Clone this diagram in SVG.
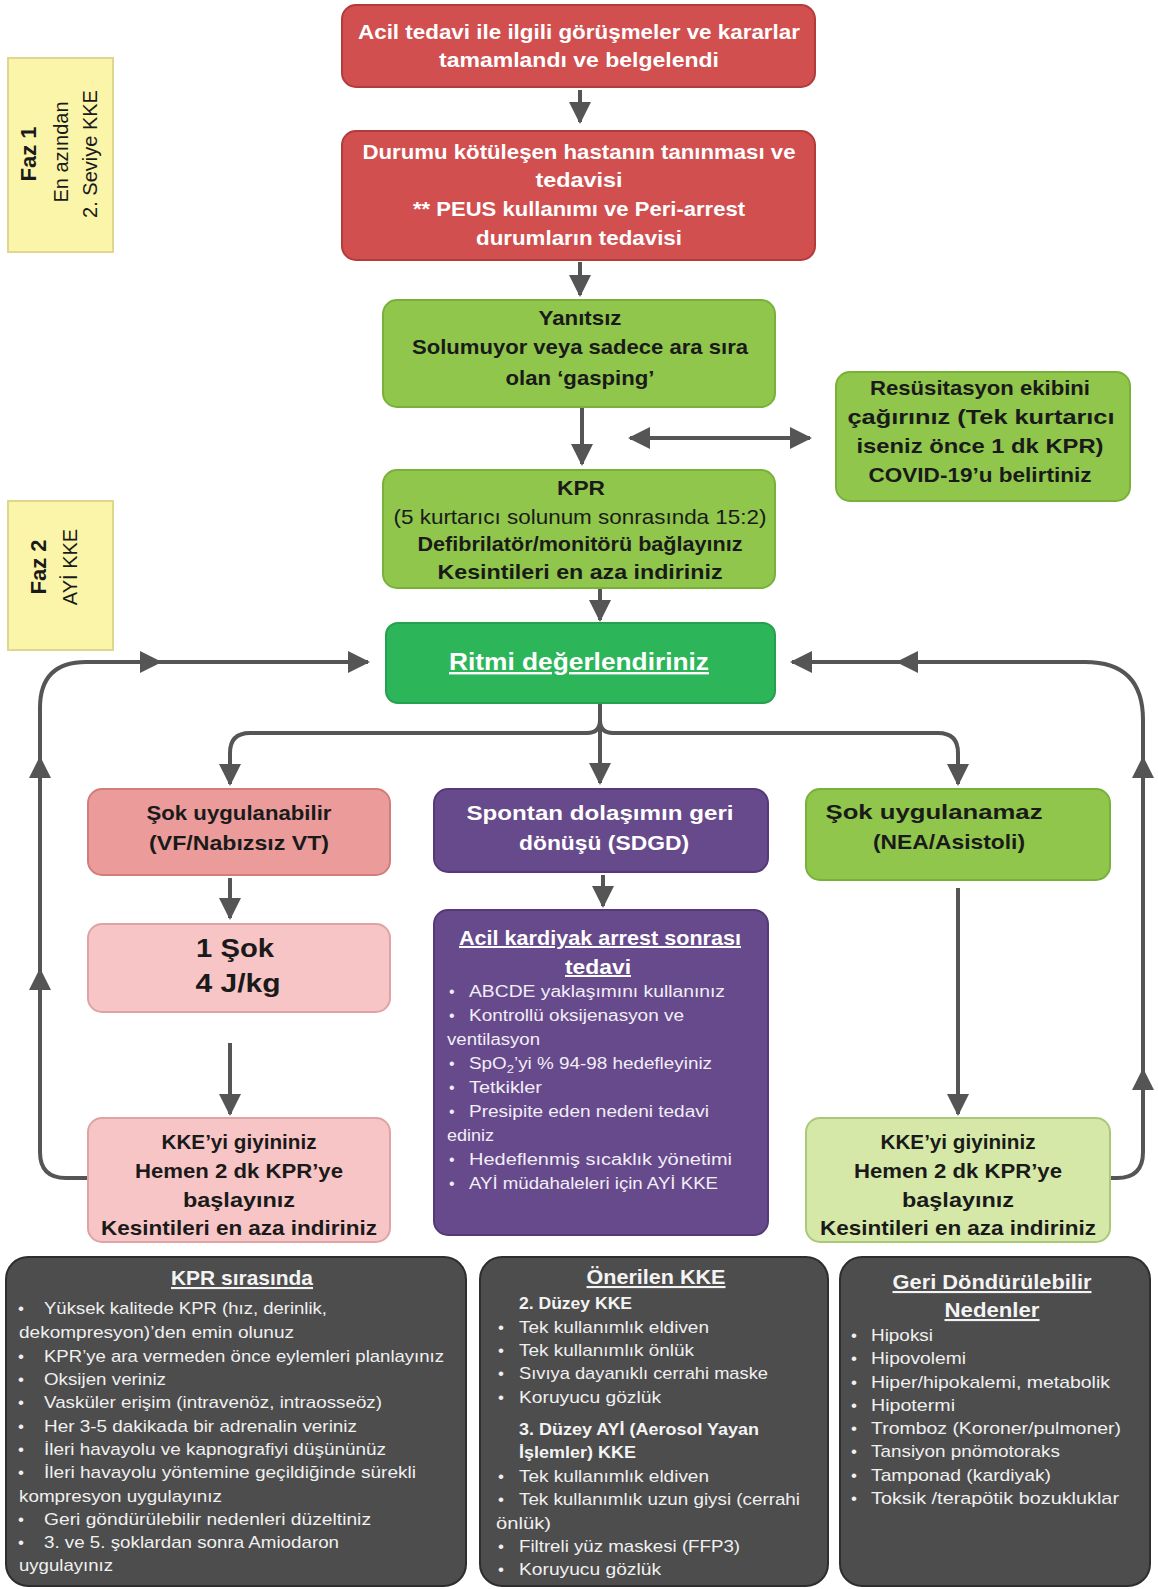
<svg xmlns="http://www.w3.org/2000/svg" width="1158" height="1589" viewBox="0 0 1158 1589">
<style>
text{font-family:"Liberation Sans",Arial,sans-serif}
.b{font-weight:bold;text-anchor:middle;font-size:21px}
.w{fill:#ffffff}
.k{fill:#1a1a1a}
.r{font-weight:normal}
.u{text-decoration:underline}
.bl{font-size:16px;fill:#f2eef7}
.gl{font-size:17px;fill:#f0f0f0}
.gh{font-size:21px;font-weight:bold;fill:#f4f4f4;text-anchor:middle;text-decoration:underline}
.gs{font-size:17px;font-weight:bold;fill:#f4f4f4}
.ln{fill:none;stroke:#555555;stroke-width:4}
.tri{fill:#555555}
.faz{fill:#fbf5a9;stroke:#e0d78e;stroke-width:2}
</style>
<defs>
<marker id="ah" markerUnits="userSpaceOnUse" markerWidth="22" markerHeight="22" refX="20" refY="11" orient="auto">
<path d="M0,0 L22,11 L0,22 z" fill="#555555"/>
</marker>
<marker id="ahs" markerUnits="userSpaceOnUse" markerWidth="22" markerHeight="22" refX="2" refY="11" orient="auto">
<path d="M22,0 L0,11 L22,22 z" fill="#555555"/>
</marker>
</defs>

<g id="faz1">
<rect class="faz" x="8" y="58" width="105" height="194"/>
<text transform="translate(36,154) rotate(-90)" style="font-size:22px;font-weight:bold;text-anchor:middle" fill="#1a1a1a">Faz 1</text>
<text transform="translate(68,152) rotate(-90)" style="font-size:20px;text-anchor:middle" fill="#1a1a1a">En azından</text>
<text transform="translate(97,154) rotate(-90)" style="font-size:20px;text-anchor:middle" fill="#1a1a1a">2. Seviye KKE</text>
</g>
<g id="faz2">
<rect class="faz" x="8" y="501" width="105" height="149"/>
<text transform="translate(46,567) rotate(-90)" style="font-size:22px;font-weight:bold;text-anchor:middle" fill="#1a1a1a">Faz 2</text>
<text transform="translate(77,567) rotate(-90)" style="font-size:20px;text-anchor:middle" fill="#1a1a1a">AYİ KKE</text>
</g>

<g id="connectors">
<line class="ln" x1="580" y1="90" x2="580" y2="122" marker-end="url(#ah)"/>
<line class="ln" x1="580" y1="262" x2="580" y2="295" marker-end="url(#ah)"/>
<line class="ln" x1="582" y1="407" x2="582" y2="464" marker-end="url(#ah)"/>
<line class="ln" x1="630" y1="438" x2="810" y2="438" marker-start="url(#ahs)" marker-end="url(#ah)"/>
<line class="ln" x1="600" y1="588" x2="600" y2="620" marker-end="url(#ah)"/>
<path class="ln" d="M88,1178 L66,1178 Q40,1178 40,1152 L40,708 Q40,662 86,662 L368,662" marker-end="url(#ah)"/>
<polygon class="tri" points="40,756 29,778 51,778"/>
<polygon class="tri" points="40,968 29,990 51,990"/>
<polygon class="tri" points="162,662 140,651 140,673"/>
<path class="ln" d="M1110,1178 L1117,1178 Q1143,1178 1143,1152 L1143,720 Q1143,662 1085,662 L792,662" marker-end="url(#ah)"/>
<polygon class="tri" points="1143,756 1132,778 1154,778"/>
<polygon class="tri" points="1143,1068 1132,1090 1154,1090"/>
<polygon class="tri" points="896,662 918,651 918,673"/>
<path class="ln" d="M600,703 L600,720 Q600,733 587,733 L250,733 Q230,733 230,753 L230,784" marker-end="url(#ah)"/>
<path class="ln" d="M600,720 Q600,733 613,733 L938,733 Q958,733 958,753 L958,784" marker-end="url(#ah)"/>
<line class="ln" x1="600" y1="720" x2="600" y2="783" marker-end="url(#ah)"/>
<line class="ln" x1="230" y1="878" x2="230" y2="918" marker-end="url(#ah)"/>
<line class="ln" x1="603" y1="875" x2="603" y2="906" marker-end="url(#ah)"/>
<line class="ln" x1="230" y1="1043" x2="230" y2="1114" marker-end="url(#ah)"/>
<line class="ln" x1="958" y1="888" x2="958" y2="1114" marker-end="url(#ah)"/>
</g>

<g id="n1">
<rect x="342" y="5" width="473" height="82" rx="14" fill="#d14f4f" stroke="#b23b3b" stroke-width="2"/>
<text class="b w" x="579" y="39" textLength="442" lengthAdjust="spacingAndGlyphs">Acil tedavi ile ilgili görüşmeler ve kararlar</text>
<text class="b w" x="579" y="67" textLength="280" lengthAdjust="spacingAndGlyphs">tamamlandı ve belgelendi</text>
</g>
<g id="n2">
<rect x="342" y="131" width="473" height="129" rx="14" fill="#d14f4f" stroke="#b23b3b" stroke-width="2"/>
<text class="b w" x="579" y="159" textLength="433" lengthAdjust="spacingAndGlyphs">Durumu kötüleşen hastanın tanınması ve</text>
<text class="b w" x="579" y="187" textLength="87" lengthAdjust="spacingAndGlyphs">tedavisi</text>
<text class="b w" x="579" y="216" textLength="332" lengthAdjust="spacingAndGlyphs">** PEUS kullanımı ve Peri-arrest</text>
<text class="b w" x="579" y="245" textLength="206" lengthAdjust="spacingAndGlyphs">durumların tedavisi</text>
</g>
<g id="n3">
<rect x="383" y="300" width="392" height="107" rx="14" fill="#8fc64b" stroke="#79b03a" stroke-width="2"/>
<text class="b k" x="580" y="325" textLength="83" lengthAdjust="spacingAndGlyphs">Yanıtsız</text>
<text class="b k" x="580" y="354" textLength="336" lengthAdjust="spacingAndGlyphs">Solumuyor veya sadece ara sıra</text>
<text class="b k" x="580" y="385" textLength="149" lengthAdjust="spacingAndGlyphs">olan ‘gasping’</text>
</g>
<g id="n4">
<rect x="836" y="372" width="294" height="129" rx="14" fill="#8fc64b" stroke="#79b03a" stroke-width="2"/>
<text class="b k" x="980" y="395" textLength="220" lengthAdjust="spacingAndGlyphs">Resüsitasyon ekibini</text>
<text class="b k" x="981" y="424" textLength="267" lengthAdjust="spacingAndGlyphs">çağırınız  (Tek kurtarıcı</text>
<text class="b k" x="980" y="453" textLength="247" lengthAdjust="spacingAndGlyphs">iseniz önce 1 dk KPR)</text>
<text class="b k" x="980" y="482" textLength="223" lengthAdjust="spacingAndGlyphs">COVID-19’u belirtiniz</text>
</g>
<g id="n5">
<rect x="383" y="470" width="392" height="118" rx="14" fill="#8fc64b" stroke="#79b03a" stroke-width="2"/>
<text class="b k" x="581" y="495" textLength="48" lengthAdjust="spacingAndGlyphs">KPR</text>
<text class="b k r" x="580" y="524" textLength="373" lengthAdjust="spacingAndGlyphs">(5 kurtarıcı solunum sonrasında 15:2)</text>
<text class="b k" x="580" y="551" textLength="325" lengthAdjust="spacingAndGlyphs">Defibrilatör/monitörü bağlayınız</text>
<text class="b k" x="580" y="579" textLength="285" lengthAdjust="spacingAndGlyphs">Kesintileri en aza indiriniz</text>
</g>
<g id="n6">
<rect x="386" y="623" width="389" height="80" rx="12" fill="#2db55a" stroke="#25a04e" stroke-width="2"/>
<text class="b w u" x="579" y="670" style="font-size:24px" textLength="260" lengthAdjust="spacingAndGlyphs">Ritmi değerlendiriniz</text>
</g>
<g id="n7">
<rect x="88" y="789" width="302" height="86" rx="14" fill="#ec9b9b" stroke="#d27c7c" stroke-width="2"/>
<text class="b k" x="239" y="820" textLength="185" lengthAdjust="spacingAndGlyphs">Şok uygulanabilir</text>
<text class="b k" x="239" y="850" textLength="180" lengthAdjust="spacingAndGlyphs">(VF/Nabızsız VT)</text>
</g>
<g id="n8">
<rect x="434" y="789" width="334" height="83" rx="14" fill="#674a8b" stroke="#553a77" stroke-width="2"/>
<text class="b w" x="600" y="820" textLength="267" lengthAdjust="spacingAndGlyphs">Spontan dolaşımın geri</text>
<text class="b w" x="604" y="850" textLength="170" lengthAdjust="spacingAndGlyphs">dönüşü (SDGD)</text>
</g>
<g id="n9">
<rect x="806" y="789" width="304" height="91" rx="14" fill="#8fc64b" stroke="#79b03a" stroke-width="2"/>
<text class="b k" x="934" y="819" textLength="217" lengthAdjust="spacingAndGlyphs">Şok uygulanamaz</text>
<text class="b k" x="949" y="849" textLength="152" lengthAdjust="spacingAndGlyphs">(NEA/Asistoli)</text>
</g>
<g id="n10">
<rect x="88" y="924" width="302" height="88" rx="14" fill="#f7c5c5" stroke="#e0a3a3" stroke-width="2"/>
<text class="b k" x="235" y="957" style="font-size:26px" textLength="78" lengthAdjust="spacingAndGlyphs">1 Şok</text>
<text class="b k" x="238" y="992" style="font-size:26px" textLength="85" lengthAdjust="spacingAndGlyphs">4 J/kg</text>
</g>
<g id="n11">
<rect x="434" y="910" width="334" height="325" rx="14" fill="#674a8b" stroke="#553a77" stroke-width="2"/>
<text class="b w u" x="600" y="945" style="font-size:20px" textLength="282" lengthAdjust="spacingAndGlyphs">Acil kardiyak arrest sonrası</text>
<text class="b w u" x="598" y="974" style="font-size:20px" textLength="66" lengthAdjust="spacingAndGlyphs">tedavi</text>
<text class="bl" x="449" y="997">•</text><text class="bl" x="469" y="997" textLength="256" lengthAdjust="spacingAndGlyphs">ABCDE yaklaşımını kullanınız</text>
<text class="bl" x="449" y="1021">•</text><text class="bl" x="469" y="1021" textLength="215" lengthAdjust="spacingAndGlyphs">Kontrollü oksijenasyon ve</text>
<text class="bl" x="447" y="1045" textLength="93" lengthAdjust="spacingAndGlyphs">ventilasyon</text>
<text class="bl" x="449" y="1069">•</text><text class="bl" x="469" y="1069" textLength="243" lengthAdjust="spacingAndGlyphs">SpO<tspan font-size="11" dy="4">2</tspan><tspan dy="-4">’yi % 94-98 hedefleyiniz</tspan></text>
<text class="bl" x="449" y="1093">•</text><text class="bl" x="469" y="1093" textLength="73" lengthAdjust="spacingAndGlyphs">Tetkikler</text>
<text class="bl" x="449" y="1117">•</text><text class="bl" x="469" y="1117" textLength="240" lengthAdjust="spacingAndGlyphs">Presipite eden nedeni tedavi</text>
<text class="bl" x="447" y="1141" textLength="47" lengthAdjust="spacingAndGlyphs">ediniz</text>
<text class="bl" x="449" y="1165">•</text><text class="bl" x="469" y="1165" textLength="263" lengthAdjust="spacingAndGlyphs">Hedeflenmiş sıcaklık yönetimi</text>
<text class="bl" x="449" y="1189">•</text><text class="bl" x="469" y="1189" textLength="249" lengthAdjust="spacingAndGlyphs">AYİ müdahaleleri için AYİ KKE</text>
</g>
<g id="n12">
<rect x="88" y="1118" width="302" height="124" rx="14" fill="#f7c5c5" stroke="#e0a3a3" stroke-width="2"/>
<text class="b k" x="239" y="1149" textLength="155" lengthAdjust="spacingAndGlyphs">KKE’yi giyininiz</text>
<text class="b k" x="239" y="1178" textLength="208" lengthAdjust="spacingAndGlyphs">Hemen 2 dk KPR’ye</text>
<text class="b k" x="239" y="1207" textLength="112" lengthAdjust="spacingAndGlyphs">başlayınız</text>
<text class="b k" x="239" y="1235" textLength="276" lengthAdjust="spacingAndGlyphs">Kesintileri en aza indiriniz</text>
</g>
<g id="n13">
<rect x="806" y="1118" width="304" height="124" rx="14" fill="#d5e8a7" stroke="#a9c978" stroke-width="2"/>
<text class="b k" x="958" y="1149" textLength="155" lengthAdjust="spacingAndGlyphs">KKE’yi giyininiz</text>
<text class="b k" x="958" y="1178" textLength="208" lengthAdjust="spacingAndGlyphs">Hemen 2 dk KPR’ye</text>
<text class="b k" x="958" y="1207" textLength="112" lengthAdjust="spacingAndGlyphs">başlayınız</text>
<text class="b k" x="958" y="1235" textLength="276" lengthAdjust="spacingAndGlyphs">Kesintileri en aza indiriniz</text>
</g>

<g id="n14">
<rect x="6" y="1257" width="460" height="329" rx="22" fill="#4d4d4d" stroke="#2e2e2e" stroke-width="2"/>
<text class="gh" x="242" y="1285" textLength="142" lengthAdjust="spacingAndGlyphs">KPR sırasında</text>
<text class="gl" x="18" y="1314">•</text><text class="gl" x="44" y="1314" textLength="283" lengthAdjust="spacingAndGlyphs">Yüksek kalitede KPR (hız, derinlik,</text>
<text class="gl" x="19" y="1338" textLength="275" lengthAdjust="spacingAndGlyphs">dekompresyon)’den emin olunuz</text>
<text class="gl" x="18" y="1362">•</text><text class="gl" x="44" y="1362" textLength="400" lengthAdjust="spacingAndGlyphs">KPR’ye ara vermeden önce eylemleri planlayınız</text>
<text class="gl" x="18" y="1385">•</text><text class="gl" x="44" y="1385" textLength="122" lengthAdjust="spacingAndGlyphs">Oksijen veriniz</text>
<text class="gl" x="18" y="1408">•</text><text class="gl" x="44" y="1408" textLength="338" lengthAdjust="spacingAndGlyphs">Vasküler erişim (intravenöz, intraosseöz)</text>
<text class="gl" x="18" y="1432">•</text><text class="gl" x="44" y="1432" textLength="313" lengthAdjust="spacingAndGlyphs">Her 3-5 dakikada bir adrenalin veriniz</text>
<text class="gl" x="18" y="1455">•</text><text class="gl" x="44" y="1455" textLength="342" lengthAdjust="spacingAndGlyphs">İleri havayolu ve kapnografiyi düşününüz</text>
<text class="gl" x="18" y="1478">•</text><text class="gl" x="44" y="1478" textLength="372" lengthAdjust="spacingAndGlyphs">İleri havayolu yöntemine geçildiğinde sürekli</text>
<text class="gl" x="19" y="1502" textLength="203" lengthAdjust="spacingAndGlyphs">kompresyon uygulayınız</text>
<text class="gl" x="18" y="1525">•</text><text class="gl" x="44" y="1525" textLength="327" lengthAdjust="spacingAndGlyphs">Geri göndürülebilir nedenleri düzeltiniz</text>
<text class="gl" x="18" y="1548">•</text><text class="gl" x="44" y="1548" textLength="295" lengthAdjust="spacingAndGlyphs">3. ve 5. şoklardan sonra Amiodaron</text>
<text class="gl" x="19" y="1571" textLength="94" lengthAdjust="spacingAndGlyphs">uygulayınız</text>
</g>
<g id="n15">
<rect x="480" y="1257" width="348" height="329" rx="22" fill="#4d4d4d" stroke="#2e2e2e" stroke-width="2"/>
<text class="gh" x="656" y="1284" textLength="139" lengthAdjust="spacingAndGlyphs">Önerilen KKE</text>
<text class="gs" x="519" y="1309" textLength="113" lengthAdjust="spacingAndGlyphs">2. Düzey KKE</text>
<text class="gl" x="498" y="1333">•</text><text class="gl" x="519" y="1333" textLength="190" lengthAdjust="spacingAndGlyphs">Tek kullanımlık eldiven</text>
<text class="gl" x="498" y="1356">•</text><text class="gl" x="519" y="1356" textLength="175" lengthAdjust="spacingAndGlyphs">Tek kullanımlık önlük</text>
<text class="gl" x="498" y="1379">•</text><text class="gl" x="519" y="1379" textLength="249" lengthAdjust="spacingAndGlyphs">Sıvıya dayanıklı cerrahi maske</text>
<text class="gl" x="498" y="1403">•</text><text class="gl" x="519" y="1403" textLength="142" lengthAdjust="spacingAndGlyphs">Koruyucu gözlük</text>
<text class="gs" x="519" y="1435" textLength="240" lengthAdjust="spacingAndGlyphs">3. Düzey AYİ (Aerosol Yayan</text>
<text class="gs" x="519" y="1458" textLength="117" lengthAdjust="spacingAndGlyphs">İşlemler) KKE</text>
<text class="gl" x="498" y="1482">•</text><text class="gl" x="519" y="1482" textLength="190" lengthAdjust="spacingAndGlyphs">Tek kullanımlık eldiven</text>
<text class="gl" x="498" y="1505">•</text><text class="gl" x="519" y="1505" textLength="281" lengthAdjust="spacingAndGlyphs">Tek kullanımlık uzun giysi (cerrahi</text>
<text class="gl" x="496" y="1529" textLength="55" lengthAdjust="spacingAndGlyphs">önlük)</text>
<text class="gl" x="498" y="1552">•</text><text class="gl" x="519" y="1552" textLength="221" lengthAdjust="spacingAndGlyphs">Filtreli yüz maskesi (FFP3)</text>
<text class="gl" x="498" y="1575">•</text><text class="gl" x="519" y="1575" textLength="142" lengthAdjust="spacingAndGlyphs">Koruyucu gözlük</text>
</g>
<g id="n16">
<rect x="840" y="1257" width="310" height="329" rx="22" fill="#4d4d4d" stroke="#2e2e2e" stroke-width="2"/>
<text class="gh" x="992" y="1289" textLength="199" lengthAdjust="spacingAndGlyphs">Geri Döndürülebilir</text>
<text class="gh" x="992" y="1317" textLength="95" lengthAdjust="spacingAndGlyphs">Nedenler</text>
<text class="gl" x="851" y="1341">•</text><text class="gl" x="871" y="1341" textLength="62" lengthAdjust="spacingAndGlyphs">Hipoksi</text>
<text class="gl" x="851" y="1364">•</text><text class="gl" x="871" y="1364" textLength="95" lengthAdjust="spacingAndGlyphs">Hipovolemi</text>
<text class="gl" x="851" y="1388">•</text><text class="gl" x="871" y="1388" textLength="239" lengthAdjust="spacingAndGlyphs">Hiper/hipokalemi, metabolik</text>
<text class="gl" x="851" y="1411">•</text><text class="gl" x="871" y="1411" textLength="84" lengthAdjust="spacingAndGlyphs">Hipotermi</text>
<text class="gl" x="851" y="1434">•</text><text class="gl" x="871" y="1434" textLength="250" lengthAdjust="spacingAndGlyphs">Tromboz (Koroner/pulmoner)</text>
<text class="gl" x="851" y="1457">•</text><text class="gl" x="871" y="1457" textLength="189" lengthAdjust="spacingAndGlyphs">Tansiyon pnömotoraks</text>
<text class="gl" x="851" y="1481">•</text><text class="gl" x="871" y="1481" textLength="180" lengthAdjust="spacingAndGlyphs">Tamponad (kardiyak)</text>
<text class="gl" x="851" y="1504">•</text><text class="gl" x="871" y="1504" textLength="248" lengthAdjust="spacingAndGlyphs">Toksik /terapötik  bozukluklar</text>
</g>
</svg>
